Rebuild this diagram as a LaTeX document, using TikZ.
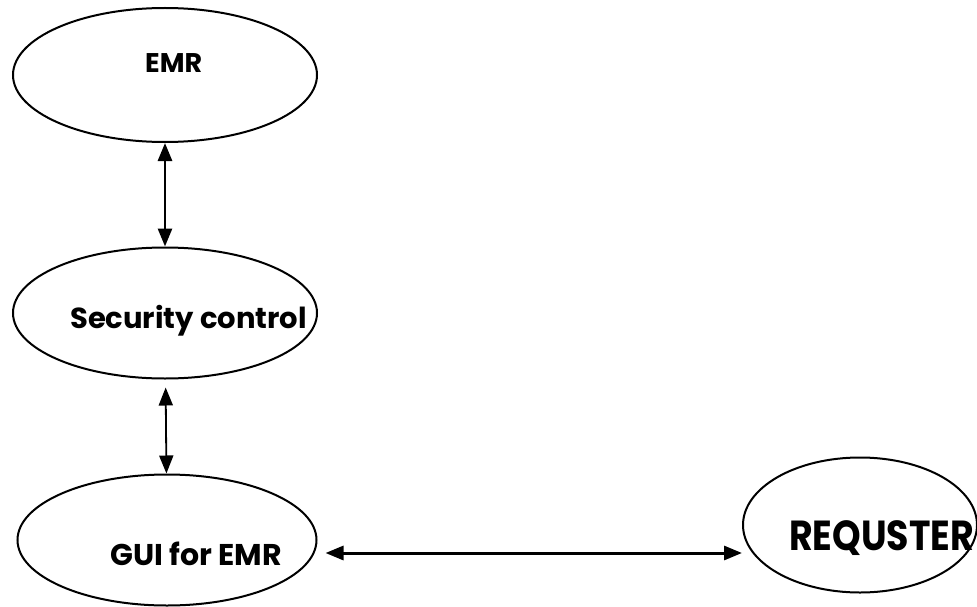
\documentclass[tikz,border=0pt]{standalone}
\usepackage{fontspec}
\setmainfont{Poppins}
\usetikzlibrary{shapes.geometric,arrows.meta}

\tikzset{
  blob/.style={draw, ellipse, line width=2pt, inner sep=0pt},
  tag/.style={font=\bfseries\fontsize{30}{34}\selectfont, anchor=base west, inner sep=0pt},
  tip/.style={{Triangle[length=18pt,width=14pt]}-{Triangle[length=18pt,width=14pt]}},
}

\begin{document}
\begin{tikzpicture}[x=1pt,y=-1pt]
	\useasboundingbox (0,0) rectangle (977,607);
	
	%%%%% ellipses %%%%%
	\node[blob, minimum width=304pt, minimum height=134pt] (emr) at (165,75) {};
	\node[blob, minimum width=304pt, minimum height=131pt] (sec) at (165,313) {};
	\node[blob, minimum width=299pt, minimum height=131pt] (gui) at (167,540) {};
	\node[blob, minimum width=234pt, minimum height=135pt] (req) at (860,525) {};
	
	%%%%% texts %%%%%
	\node[tag, font=\bfseries\fontsize{27}{30}\selectfont] (emrtxt) at (145,73) {EMR};
	\node[tag, font=\bfseries\fontsize{29}{33}\selectfont] (sectxt) at (70,328) {Security control};
	\node[tag] (guitxt) at (110,565) {GUI for EMR};
	\node[tag, font=\bfseries\fontsize{42}{46}\selectfont] (reqtxt) at (789,550) {\scalebox{0.865}[1]{REQUSTER}};
	
	%%%%% arrows %%%%%
	\draw[tip, line width=2.8pt] (emr) -- (sec);
	\draw[tip, line width=1.8pt, shorten <=8pt] (sec) -- (gui);
	\draw[tip, line width=3pt] ([xshift=8pt,yshift=-13pt]gui.east) -- ([yshift=-28pt]req.west);
\end{tikzpicture}
\end{document}
